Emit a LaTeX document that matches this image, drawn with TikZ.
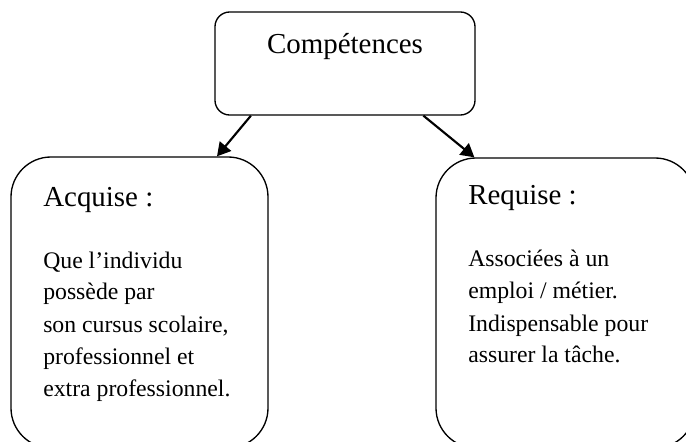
\documentclass[tikz,border=0pt]{standalone}
\usepackage{fontspec}
\setmainfont{Liberation Serif}
\usetikzlibrary{calc,arrows.meta}
\tikzset{>={Triangle[length=10pt,width=11pt]}}
\tikzset{
  cbox/.style={draw, line width=1pt, rounded corners=11pt, inner sep=0pt},
  head/.style={anchor=base west, inner sep=0pt, font=\fontsize{21.7}{26}\selectfont},
  body/.style={anchor=base west, inner sep=0pt, font=\fontsize{17.8}{24}\selectfont},
  link/.style={->, line width=1.6pt}
}

\begin{document}
\begin{tikzpicture}[x=0.75pt,y=-0.75pt]
\useasboundingbox (0,0) rectangle (686,442);
\clip (0,0) rectangle (686,442);
\node[cbox, minimum width=195pt, minimum height=77.25pt] (comp) at (345,63.5) {};
\node[head, anchor=base] (compt) at (345,53.3) {Compétences};
\node[cbox, rounded corners=30pt, minimum width=192.75pt, minimum height=218.25pt] (acq) at (139.5,302.5) {};
\node[cbox, rounded corners=30pt, minimum width=194.25pt, minimum height=217.5pt] (req) at (565.5,303) {};
\node[head] (acqt) at (43,206.7) {Acquise :};
\node[head] (reqt) at (468,205) {Requise :};
\foreach \ln [count=\i] in {Que l’individu, possède par, {son cursus scolaire,}, professionnel et, extra professionnel.}
  \node[body] (acq-\i) at (43,236+32*\i) {\ln};
\foreach \ln [count=\i] in {Associées à un, emploi / métier., Indispensable pour, assurer la tâche.}
  \node[body] (req-\i) at (468,235+32*\i) {\ln};
\draw[link] ($(comp.south west)!0.14!(comp.south east)$) -- ($(acq.north west)!0.8!(acq.north east)$);
\draw[link] ($(comp.south west)!0.8!(comp.south east)$) -- ($(req.north west)!0.15!(req.north east)$);
\end{tikzpicture}
\end{document}
